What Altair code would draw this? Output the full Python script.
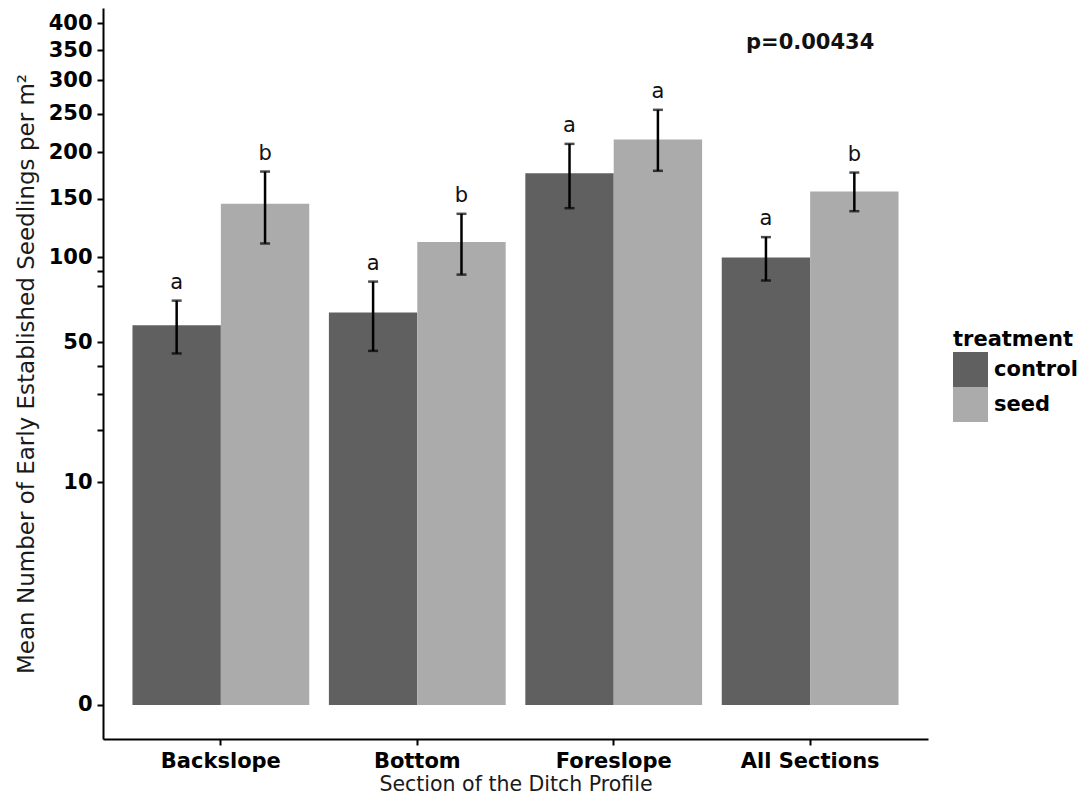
import altair as alt
import pandas as pd

sections = ["Backslope", "Bottom", "Foreslope", "All Sections"]
treatments = ["control", "seed"]
control_mean = [58.1, 64.7, 176.2, 99.7]
control_lo = [45.0, 46.1, 140.8, 83.8]
control_hi = [71.4, 83.1, 210.3, 115.5]
seed_mean = [144.9, 111.5, 215.7, 156.9]
seed_lo = [110.4, 87.7, 178.8, 138.0]
seed_hi = [178.0, 135.6, 255.4, 176.9]
control_letters = ["a", "a", "a", "a"]
seed_letters = ["b", "b", "a", "b"]
y_ticks = [0, 10, 20, 30, 40, 50, 80, 90, 100, 150, 200, 250, 300, 350, 400]
y_unlabeled = [20, 30, 40, 80, 90]
p_label = "p=0.00434"
p_section = "All Sections"
p_value_y = 363
y_domain = [-0.0204, 429.9]
y_exponent = 0.3033
bar_colors = ["#606060", "#ABABAB"]

rows = []
for i, s in enumerate(sections):
    rows.append(dict(section=s, treatment="control", mean=control_mean[i],
                     lo=control_lo[i], hi=control_hi[i], letter=control_letters[i], base=0))
    rows.append(dict(section=s, treatment="seed", mean=seed_mean[i],
                     lo=seed_lo[i], hi=seed_hi[i], letter=seed_letters[i], base=0))
df = pd.DataFrame(rows)
pdf = pd.DataFrame({"section": [p_section], "y": [p_value_y], "label": [p_label]})

FONT = "DejaVu Sans"
XT = "Section of the Ditch Profile"
YT = "Mean Number of Early Established Seedlings per m²"

x_axis = alt.Axis(labelAngle=0, labelFont=FONT, labelFontWeight="bold", labelFontSize=21,
                  labelColor="black", tickColor="black", tickWidth=2, tickSize=6,
                  domainColor="black", domainWidth=2, labelPadding=5, grid=False,
                  titleFont=FONT, titleFontSize=20.5, titleFontWeight="normal",
                  titleColor="#1a1a1a", titleX=412.5, titleY=51, titleBaseline="alphabetic",
                  titleAlign="center")
y_axis = alt.Axis(values=y_ticks,
                  labelExpr="indexof(%s, datum.value) >= 0 ? '' : datum.label" % str(y_unlabeled),
                  labelFont=FONT, labelFontWeight="bold", labelFontSize=21, labelColor="black",
                  tickColor="black", tickWidth=2, tickSize=6, domainColor="black", domainWidth=2,
                  grid=False, labelPadding=5, labelFlush=False,
                  titleFont=FONT, titleFontSize=23, titleFontWeight="normal", titleColor="#1a1a1a",
                  titleX=-70, titleY=365.5, titleAngle=270, titleBaseline="alphabetic",
                  titleAlign="center")

x_scale = alt.Scale(paddingInner=0.1, paddingOuter=0.15)
y_scale = alt.Scale(type="pow", exponent=y_exponent, domain=y_domain, nice=False, zero=False)

X = alt.X("section:N", sort=sections, scale=x_scale, axis=x_axis, title=XT)
XO = alt.XOffset("treatment:N", sort=treatments, scale=alt.Scale(paddingInner=0, paddingOuter=0))

base = alt.Chart(df)

bars = base.mark_bar().encode(
    x=X, xOffset=XO,
    y=alt.Y("mean:Q", scale=y_scale, axis=y_axis, title=YT),
    y2="base:Q",
    color=alt.Color("treatment:N", sort=treatments,
                    scale=alt.Scale(domain=treatments, range=bar_colors),
                    legend=alt.Legend(orient="none", legendX=850, legendY=321, title="treatment",
                                      titleFont=FONT, titleFontWeight="bold", titleFontSize=21,
                                      titleColor="black", labelFont=FONT, labelFontWeight="bold",
                                      labelFontSize=21, labelColor="black", symbolType="square",
                                      symbolSize=1225, symbolStrokeWidth=0, rowPadding=0,
                                      labelOffset=6, titlePadding=2, padding=0)),
)

rules = base.mark_rule(color="black", strokeWidth=2.5).encode(
    x=X, xOffset=XO, y=alt.Y("lo:Q", title=YT), y2="hi:Q")
caps_hi = base.mark_tick(color="black", size=10, thickness=2.5, orient="horizontal").encode(
    x=X, xOffset=XO, y=alt.Y("hi:Q", title=YT))
caps_lo = base.mark_tick(color="black", size=10, thickness=2.5, orient="horizontal").encode(
    x=X, xOffset=XO, y=alt.Y("lo:Q", title=YT))
letters = base.mark_text(font=FONT, fontSize=21, color="#111111", baseline="alphabetic",
                         dy=-12).encode(
    x=X, xOffset=XO, y=alt.Y("hi:Q", title=YT), text="letter:N")
ptext = alt.Chart(pdf).mark_text(font=FONT, fontSize=21, fontWeight="bold", color="#111111",
                                 baseline="middle").encode(
    x=X, y=alt.Y("y:Q", title=YT), text="label:N")

chart = alt.layer(bars, rules, caps_hi, caps_lo, letters, ptext).properties(
    width=825, height=731,
    padding={"left": 95, "top": 0, "right": 151, "bottom": 57},
    autosize=alt.AutoSizeParams(type="none"),
).configure_view(strokeWidth=0)

chart.save("out.html", embed_options={"renderer": "svg", "actions": False})
